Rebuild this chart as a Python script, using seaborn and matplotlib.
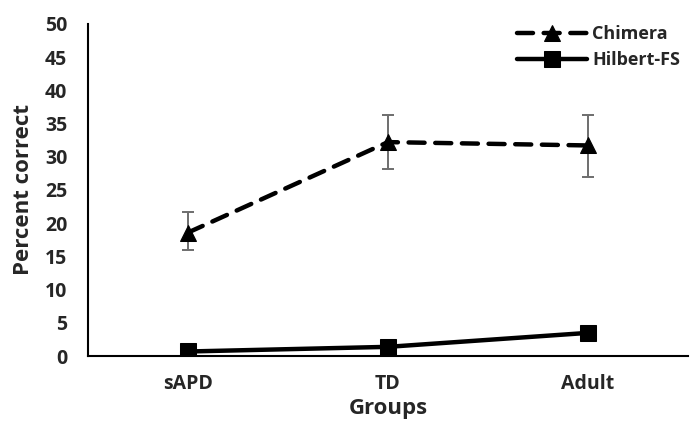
import matplotlib
matplotlib.use("Agg")
import matplotlib.pyplot as plt
import seaborn as sns
import pandas as pd

groups = ["sAPD", "TD", "Adult"]
chimera = [18.6, 32.2, 31.7]
chimera_err_hi = [21.7, 36.3, 36.3]
chimera_err_lo = [16.0, 28.2, 27.0]
hilbert = [0.7, 1.4, 3.5]

sns.set_theme(style="white")
plt.rcParams["font.family"] = ["Open Sans", "DejaVu Sans"]
plt.rcParams["font.weight"] = "bold"

df = pd.DataFrame({
    "Groups": groups * 2,
    "Percent correct": chimera + hilbert,
    "Condition": ["Chimera"] * 3 + ["Hilbert-FS"] * 3,
})

fig = plt.figure(figsize=(6.94, 4.25), dpi=100)
ax = fig.add_axes([0.127, 0.162, 0.864, 0.782])

sns.lineplot(
    data=df, x="Groups", y="Percent correct", hue="Condition", style="Condition",
    palette=["black", "black"], markers={"Chimera": "^", "Hilbert-FS": "s"},
    dashes={"Chimera": (3.6, 2.4), "Hilbert-FS": ""}, linewidth=3.2,
    markersize=11, markeredgecolor="black", ax=ax, legend=True, zorder=3,
)
for ln in ax.lines:
    ln.set_dash_capstyle("round")

xs = list(range(len(groups)))
lo = [c - l for c, l in zip(chimera, chimera_err_lo)]
hi = [h - c for c, h in zip(chimera, chimera_err_hi)]
ax.errorbar(xs, chimera, yerr=[lo, hi], fmt="none", ecolor="#6e6e6e",
            elinewidth=1.4, capsize=4.5, capthick=1.4, zorder=2)

ax.set_xlim(-0.5, 2.5)
ax.set_ylim(0, 50)
ax.set_yticks(range(0, 51, 5))
ax.tick_params(axis="x", length=0, labelsize=14, pad=13)
ax.tick_params(axis="y", length=0, labelsize=14, pad=15)
for lab in ax.get_xticklabels() + ax.get_yticklabels():
    lab.set_fontweight("bold")
ax.set_xlabel("Groups", fontsize=16, fontweight="bold", labelpad=3)
ax.set_ylabel("Percent correct", fontsize=16, fontweight="bold", labelpad=8)

for s in ["top", "right"]:
    ax.spines[s].set_visible(False)
for s in ["left", "bottom"]:
    ax.spines[s].set_color("black")
    ax.spines[s].set_linewidth(1.5)

leg = ax.legend(loc="upper right", bbox_to_anchor=(1.015, 1.045), frameon=False,
                fontsize=13, handlelength=3.9, handletextpad=0.3,
                labelspacing=0.45)
for t in leg.get_texts():
    t.set_fontweight("bold")

fig.savefig("out.png", dpi=100)
